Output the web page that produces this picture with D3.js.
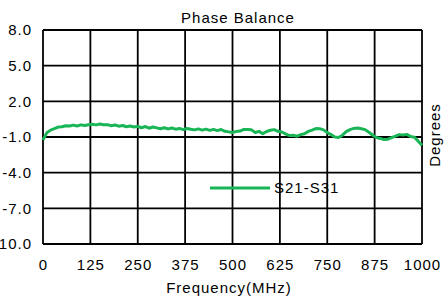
<!DOCTYPE html>
<html>
<head>
<meta charset="utf-8">
<script src="https://cdn.jsdelivr.net/npm/d3@7"></script>
<style>
  body { margin: 0; background: #fff; }
  text { font-family: "Liberation Sans", Arial, sans-serif; fill: #000; }
</style>
</head>
<body>
<svg id="chart" width="446" height="298"></svg>
<script>
// data
var freqs = [0, 5, 10, 20, 30, 40, 50, 60, 70, 80, 90, 100, 110, 120, 130, 140, 150, 160, 170, 180, 190,
    200, 210, 220, 230, 240, 250, 260, 270, 280, 290, 300, 310, 320, 330, 340, 350, 360, 370, 380, 390,
    400, 410, 420, 430, 440, 450, 460, 470, 480, 490, 500, 510, 520, 530, 540, 550, 560, 570, 580, 590,
    600, 610, 620, 630, 640, 650, 660, 670, 680, 690, 700, 710, 720, 730, 740, 750, 760, 770, 780, 790,
    800, 810, 820, 830, 840, 850, 860, 870, 880, 890, 900, 910, 920, 930, 940, 950, 960, 970, 980, 990, 1000];
var s21s31 = [-1.25, -0.95, -0.65, -0.42, -0.3, -0.16, -0.14, -0.06, -0.08, 0.0, -0.07, 0.02, -0.04, 0.03, 0.07, 0.02, 0.09, 0.03, 0.04, -0.05, 0.01,
    -0.09, -0.03, -0.14, -0.08, -0.16, -0.1, -0.22, -0.12, -0.26, -0.16, -0.23, -0.3, -0.22, -0.32, -0.24, -0.34, -0.28, -0.38, -0.29, -0.35,
    -0.4, -0.32, -0.42, -0.34, -0.44, -0.36, -0.46, -0.37, -0.52, -0.57, -0.62, -0.53, -0.5, -0.36, -0.37, -0.4, -0.62, -0.53, -0.72, -0.54,
    -0.43, -0.38, -0.52, -0.58, -0.74, -0.88, -0.86, -0.93, -0.8, -0.72, -0.53, -0.42, -0.29, -0.3, -0.4, -0.62, -0.8, -1.0, -1.05, -0.85,
    -0.55, -0.38, -0.28, -0.24, -0.3, -0.38, -0.6, -0.85, -1.05, -1.12, -1.22, -1.18, -1.05, -0.92, -0.8, -0.84, -0.78, -0.96, -1.02, -1.35, -1.7];
var xTicks = [0, 125, 250, 375, 500, 625, 750, 875, 1000];
var yTicks = [8, 5, 2, -1, -4, -7, -10];

var svg = d3.select('#chart');
var pLeft = 43, pRight = 422, pTop = 30, pBottom = 244;
var fs = 15, ls = 1;

// STEP 1: scales
var x = d3.scaleLinear().domain([0, 1000]).range([pLeft, pRight]);
var y = d3.scaleLinear().domain([-10, 8]).range([pBottom, pTop]);

// grid
var grid = svg.append('g').attr('class', 'grid');
grid.selectAll('line.v')
    .data(xTicks)
  .enter()
  .append('line')
    .attr('x1', d => x(d)).attr('x2', d => x(d))
    .attr('y1', pTop).attr('y2', pBottom)
    .attr('stroke', '#000').attr('stroke-width', 1.8);
grid.selectAll('line.h')
    .data(yTicks)
  .enter()
  .append('line')
    .attr('x1', pLeft).attr('x2', pRight)
    .attr('y1', d => y(d)).attr('y2', d => y(d))
    .attr('stroke', '#000').attr('stroke-width', 1.8);

// STEP 2: axes (labels only, grid drawn above)
var xAxis = d3.axisBottom(x).tickValues(xTicks).tickSize(0).tickPadding(15).tickFormat(d => String(d));
svg.append('g')
    .attr('transform', 'translate(0,' + pBottom + ')')
    .call(xAxis)
    .call(g => g.select('.domain').remove());

// plain hyphen minus, like the original
var yAxis = d3.axisLeft(y).tickValues(yTicks).tickSize(0).tickPadding(11).tickFormat(d => d.toFixed(1));
svg.append('g')
    .attr('transform', 'translate(' + pLeft + ',0)')
    .call(yAxis)
    .call(g => g.select('.domain').remove());

svg.selectAll('.tick text')
    .attr('fill', '#000')
    .attr('font-size', fs)
    .attr('letter-spacing', ls)
    .style('font-family', '"Liberation Sans", Arial, sans-serif');

// STEP 3: the curve
var line = d3.line()
    .x((d, i) => x(freqs[i]))
    .y(d => y(d));

svg.append('path')
    .datum(s21s31)
    .attr('d', line)
    .attr('fill', 'none')
    .attr('stroke', '#19b556')
    .attr('stroke-width', 3)
    .attr('stroke-linejoin', 'round');

// legend
svg.append('line')
    .attr('x1', 210).attr('x2', 270)
    .attr('y1', 188).attr('y2', 188)
    .attr('stroke', '#19b556').attr('stroke-width', 3);
svg.append('text')
    .attr('x', 274).attr('y', 193)
    .attr('font-size', fs).attr('letter-spacing', ls)
    .text('S21-S31');

// titles
svg.append('text')
    .attr('x', 238).attr('y', 23)
    .attr('text-anchor', 'middle')
    .attr('font-size', fs).attr('letter-spacing', ls)
    .text('Phase Balance');
svg.append('text')
    .attr('x', 229).attr('y', 293)
    .attr('text-anchor', 'middle')
    .attr('font-size', fs).attr('letter-spacing', ls)
    .text('Frequency(MHz)');
svg.append('text')
    .attr('transform', 'translate(440,135) rotate(-90)')
    .attr('text-anchor', 'middle')
    .attr('font-size', fs).attr('letter-spacing', ls)
    .text('Degrees');
</script>
</body>
</html>
